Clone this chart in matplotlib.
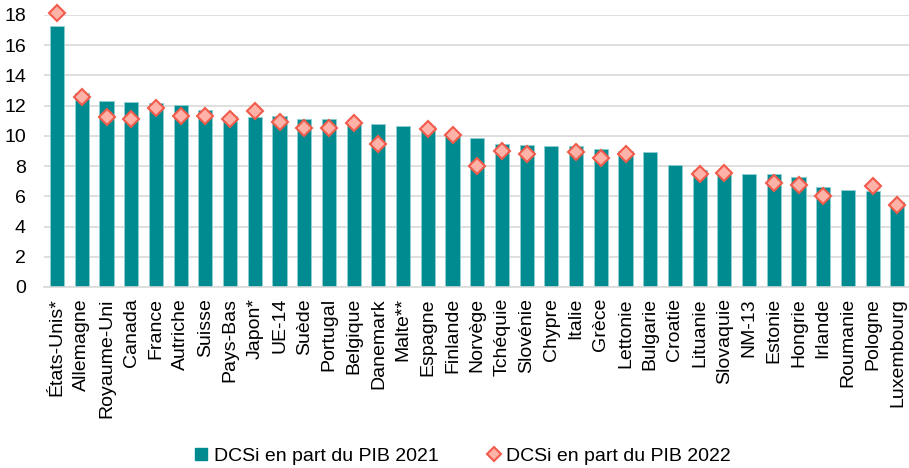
import numpy as np
import matplotlib
matplotlib.use("Agg")
import matplotlib.pyplot as plt
from matplotlib.lines import Line2D

plt.rcParams["font.family"] = ["Liberation Sans", "DejaVu Sans"]

# DCSi as a share of GDP, by country
countries = [
    "États-Unis*", "Allemagne", "Royaume-Uni", "Canada", "France", "Autriche",
    "Suisse", "Pays-Bas", "Japon*", "UE-14", "Suède", "Portugal", "Belgique",
    "Danemark", "Malte**", "Espagne", "Finlande", "Norvège", "Tchéquie",
    "Slovénie", "Chypre", "Italie", "Grèce", "Lettonie", "Bulgarie", "Croatie",
    "Lituanie", "Slovaquie", "NM-13", "Estonie", "Hongrie", "Irlande",
    "Roumanie", "Pologne", "Luxembourg",
]
dcsi_2021 = [
    17.3, 12.86, 12.29, 12.24, 12.2, 12.02, 11.73, 11.29, 11.23, 11.33,
    11.11, 11.09, 10.95, 10.76, 10.67, 10.67, 10.15, 9.85, 9.43, 9.39,
    9.34, 9.32, 9.1, 8.99, 8.9, 8.04, 7.73, 7.67, 7.45, 7.45,
    7.31, 6.63, 6.41, 6.36, 5.61,
]
dcsi_2022 = [
    18.1, 12.6, 11.27, 11.11, 11.86, 11.31, 11.29, 11.09, 11.64, 10.94,
    10.54, 10.54, 10.87, 9.46, np.nan, 10.43, 10.07, 8.0, 9.01, 8.81,
    np.nan, 8.95, 8.55, 8.79, np.nan, np.nan, 7.45, 7.51, np.nan, 6.89,
    6.72, 6.03, np.nan, 6.65, 5.41,
]
y_ticks = [0, 2, 4, 6, 8, 10, 12, 14, 16, 18]

bar_color = "#008b90"
marker_face = "#ffb3a8"
marker_edge = "#f25a4c"

fig = plt.figure(figsize=(9.09, 4.68), dpi=100)
ax = fig.add_axes([0.0484, 0.3868, 0.9516, 0.5812])

x = np.arange(len(countries))
ax.bar(x, dcsi_2021, width=0.57, color=bar_color, edgecolor="#8fcfd1",
       linewidth=0.6, zorder=2)
ax.plot(x, dcsi_2022, linestyle="none", marker="D", markersize=8,
        markerfacecolor=marker_face, markeredgecolor=marker_edge,
        markeredgewidth=1.5, zorder=3, clip_on=False)

ax.set_xlim(-0.53, len(countries) - 0.53)
ax.set_ylim(0, 18)
ax.set_yticks(y_ticks)
ax.set_xticks(x)
ax.set_xticklabels(countries, rotation=90, fontsize=14)
ax.tick_params(axis="y", length=0, pad=13, labelsize=14)
ax.tick_params(axis="x", length=0, pad=8)

ax.grid(axis="y", color="#d9d9d9", linewidth=1.2, zorder=0)
for side in ["top", "right", "left"]:
    ax.spines[side].set_visible(False)
ax.spines["bottom"].set_color("#d9d9d9")
ax.spines["bottom"].set_linewidth(1.2)

handles = [
    Line2D([], [], linestyle="none", marker="s", markersize=9,
           markerfacecolor=bar_color, markeredgecolor=bar_color),
    Line2D([], [], linestyle="none", marker="D", markersize=7,
           markerfacecolor=marker_face, markeredgecolor=marker_edge,
           markeredgewidth=1.5),
]
fig.legend(handles, ["DCSi en part du PIB 2021", "DCSi en part du PIB 2022"],
           loc="center", bbox_to_anchor=(0.509, 0.026), ncol=2, frameon=False,
           fontsize=14, handlelength=0.7, handletextpad=0.3, columnspacing=2.5,
           borderpad=0)

fig.savefig("out.png", dpi=100)
